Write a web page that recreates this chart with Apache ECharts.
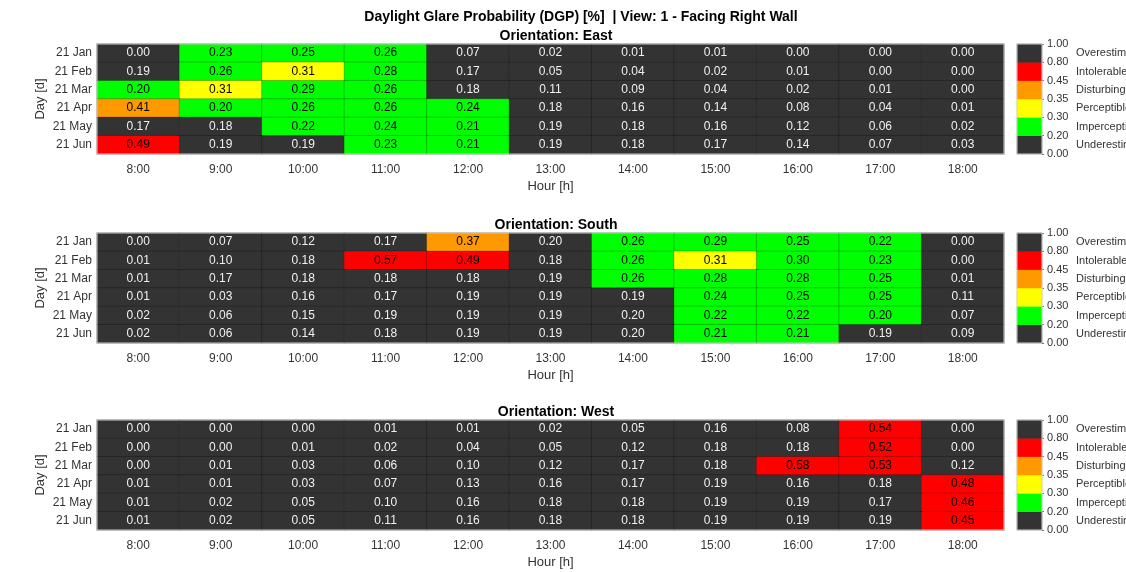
<!DOCTYPE html>
<html>
<head>
<meta charset="utf-8">
<script src="https://cdn.jsdelivr.net/npm/echarts@6/dist/echarts.min.js"></script>
<style>
  html, body { margin: 0; padding: 0; background: #fff; }
  #chart { width: 1126px; height: 572px; }
</style>
</head>
<body>
<div id="chart"></div>
<script>
// Hours (columns) and days (rows)
const hours = ['8:00', '9:00', '10:00', '11:00', '12:00', '13:00', '14:00', '15:00', '16:00', '17:00', '18:00'];
const days = ['21 Jan', '21 Feb', '21 Mar', '21 Apr', '21 May', '21 Jun'];

// DGP per orientation, one row per day, one value per hour
const dgpEast = [
  [0.00, 0.23, 0.25, 0.26, 0.07, 0.02, 0.01, 0.01, 0.00, 0.00, 0.00],
  [0.19, 0.26, 0.31, 0.28, 0.17, 0.05, 0.04, 0.02, 0.01, 0.00, 0.00],
  [0.20, 0.31, 0.29, 0.26, 0.18, 0.11, 0.09, 0.04, 0.02, 0.01, 0.00],
  [0.41, 0.20, 0.26, 0.26, 0.24, 0.18, 0.16, 0.14, 0.08, 0.04, 0.01],
  [0.17, 0.18, 0.22, 0.24, 0.21, 0.19, 0.18, 0.16, 0.12, 0.06, 0.02],
  [0.49, 0.19, 0.19, 0.23, 0.21, 0.19, 0.18, 0.17, 0.14, 0.07, 0.03]
];
const dgpSouth = [
  [0.00, 0.07, 0.12, 0.17, 0.37, 0.198, 0.26, 0.29, 0.25, 0.22, 0.00],
  [0.01, 0.10, 0.18, 0.57, 0.49, 0.18, 0.26, 0.31, 0.298, 0.23, 0.00],
  [0.01, 0.17, 0.18, 0.18, 0.18, 0.19, 0.26, 0.28, 0.28, 0.25, 0.01],
  [0.01, 0.03, 0.16, 0.17, 0.19, 0.19, 0.19, 0.24, 0.25, 0.25, 0.11],
  [0.02, 0.06, 0.15, 0.19, 0.19, 0.19, 0.198, 0.22, 0.22, 0.20, 0.07],
  [0.02, 0.06, 0.14, 0.18, 0.19, 0.19, 0.198, 0.21, 0.21, 0.19, 0.09]
];
const dgpWest = [
  [0.00, 0.00, 0.00, 0.01, 0.01, 0.02, 0.05, 0.16, 0.08, 0.54, 0.00],
  [0.00, 0.00, 0.01, 0.02, 0.04, 0.05, 0.12, 0.18, 0.18, 0.52, 0.00],
  [0.00, 0.01, 0.03, 0.06, 0.10, 0.12, 0.17, 0.18, 0.58, 0.53, 0.12],
  [0.01, 0.01, 0.03, 0.07, 0.13, 0.16, 0.17, 0.19, 0.16, 0.18, 0.48],
  [0.01, 0.02, 0.05, 0.10, 0.16, 0.18, 0.18, 0.19, 0.19, 0.17, 0.46],
  [0.01, 0.02, 0.05, 0.11, 0.16, 0.18, 0.18, 0.19, 0.19, 0.19, 0.45]
];

// Glare classes (bottom to top) and their DGP boundaries
const classNames = ['Underestimated', 'Imperceptible', 'Perceptible', 'Disturbing', 'Intolerable', 'Overestimated'];
const classBounds = [0.00, 0.20, 0.30, 0.35, 0.45, 0.80, 1.00];
const classColors = ['#333333', '#00ff00', '#ffff00', '#ff9900', '#ff0000', '#333333'];

const panels = [
  { name: 'Orientation: East', values: dgpEast, top: 44 },
  { name: 'Orientation: South', values: dgpSouth, top: 233 },
  { name: 'Orientation: West', values: dgpWest, top: 420 }
];

const textColor = '#333333';
const font = 'Liberation Sans, Arial, Helvetica, sans-serif';
const panelHeight = 110;

function isHighlighted(v) { return v >= 0.20 && v < 0.80; }

const grids = [], xAxes = [], yAxes = [], series = [], titles = [];

titles.push({
  text: 'Daylight Glare Probability (DGP) [%]  | View: 1 - Facing Right Wall',
  left: 581, top: 10, textAlign: 'center', padding: 0,
  textStyle: { fontFamily: font, fontSize: 14, fontWeight: 'bold', color: '#000' }
});

panels.forEach((p, k) => {
  // heatmap grid
  grids.push({ left: 97, width: 907, top: p.top, height: panelHeight, show: true, z: 5,
    outerBoundsMode: 'none',
    borderColor: '#cfcfcf', borderWidth: 1, backgroundColor: 'transparent' });
  // colour bar grid
  grids.push({ left: 1017, width: 25, top: p.top, height: panelHeight, show: true, z: 5,
    outerBoundsMode: 'none',
    borderColor: '#cfcfcf', borderWidth: 1, backgroundColor: 'transparent' });

  titles.push({
    text: p.name, left: 556, top: p.top - 15, textAlign: 'center', padding: 0,
    textStyle: { fontFamily: font, fontSize: 14, fontWeight: 'bold', color: '#000' }
  });

  const gH = 2 * k, gC = 2 * k + 1;

  xAxes.push({
    type: 'category', gridIndex: gH, data: hours,
    axisLine: { show: false }, axisTick: { show: false },
    axisLabel: { fontFamily: font, fontSize: 12, color: textColor, margin: 10 },
    name: 'Hour [h]', nameLocation: 'middle', nameGap: 26, nameMoveOverlap: false,
    nameTextStyle: { fontFamily: font, fontSize: 13, color: textColor }
  });
  xAxes.push({
    type: 'category', gridIndex: gC, data: [''],
    axisLine: { show: false }, axisTick: { show: false }, axisLabel: { show: false }
  });

  const yHeat = yAxes.length;
  yAxes.push({
    type: 'category', gridIndex: gH, data: days, inverse: true,
    axisLine: { show: false }, axisTick: { show: false },
    axisLabel: { fontFamily: font, fontSize: 12, color: textColor, margin: 5 },
    name: 'Day [d]', nameLocation: 'middle', nameGap: 50, nameMoveOverlap: false,
    nameTextStyle: { fontFamily: font, fontSize: 13, color: textColor }
  });
  const yClass = yAxes.length;
  yAxes.push({
    type: 'category', gridIndex: gC, data: classNames, position: 'right',
    axisLine: { show: false }, axisTick: { show: false },
    axisLabel: { fontFamily: font, fontSize: 11, color: textColor, margin: 34, align: 'left' }
  });
  yAxes.push({
    type: 'value', gridIndex: gC, position: 'right', min: 0, max: classNames.length, interval: 1,
    axisLine: { show: false }, splitLine: { show: false },
    axisTick: { show: true, length: 2, lineStyle: { color: '#777' } },
    axisLabel: { fontFamily: font, fontSize: 11, color: textColor, margin: 5,
      formatter: v => classBounds[v].toFixed(2) }
  });

  const data = [];
  p.values.forEach((row, r) => {
    row.forEach((v, c) => {
      data.push({ value: [c, r, v], label: { color: isHighlighted(v) ? '#000000' : '#f0f0f0' } });
    });
  });

  series.push({
    type: 'heatmap', xAxisIndex: 2 * k, yAxisIndex: yHeat, data: data,
    label: { show: true, fontFamily: font, fontSize: 12, formatter: q => q.value[2].toFixed(2) },
    itemStyle: { borderColor: 'rgba(0,0,0,0.22)', borderWidth: 1 },
    emphasis: { disabled: true }
  });

  // colour bar: one cell per glare class, coloured by its own class range
  series.push({
    type: 'heatmap', xAxisIndex: 2 * k + 1, yAxisIndex: yClass,
    data: classNames.map((n, i) => [0, i, (classBounds[i] + classBounds[i + 1]) / 2]),
    label: { show: false },
    emphasis: { disabled: true }
  });
});

const pieces = classNames.map((n, i) => ({
  gte: classBounds[i], lt: classBounds[i + 1], color: classColors[i]
}));
pieces[pieces.length - 1].lte = 1.5;
delete pieces[pieces.length - 1].lt;

const chart = echarts.init(document.getElementById('chart'), null, { renderer: 'canvas' });
chart.setOption({
  animation: false,
  backgroundColor: '#ffffff',
  title: titles,
  grid: grids,
  xAxis: xAxes,
  yAxis: yAxes,
  visualMap: {
    type: 'piecewise', show: false, dimension: 2,
    seriesIndex: series.map((s, i) => i),
    pieces: pieces
  },
  series: series
});
</script>
</body>
</html>
